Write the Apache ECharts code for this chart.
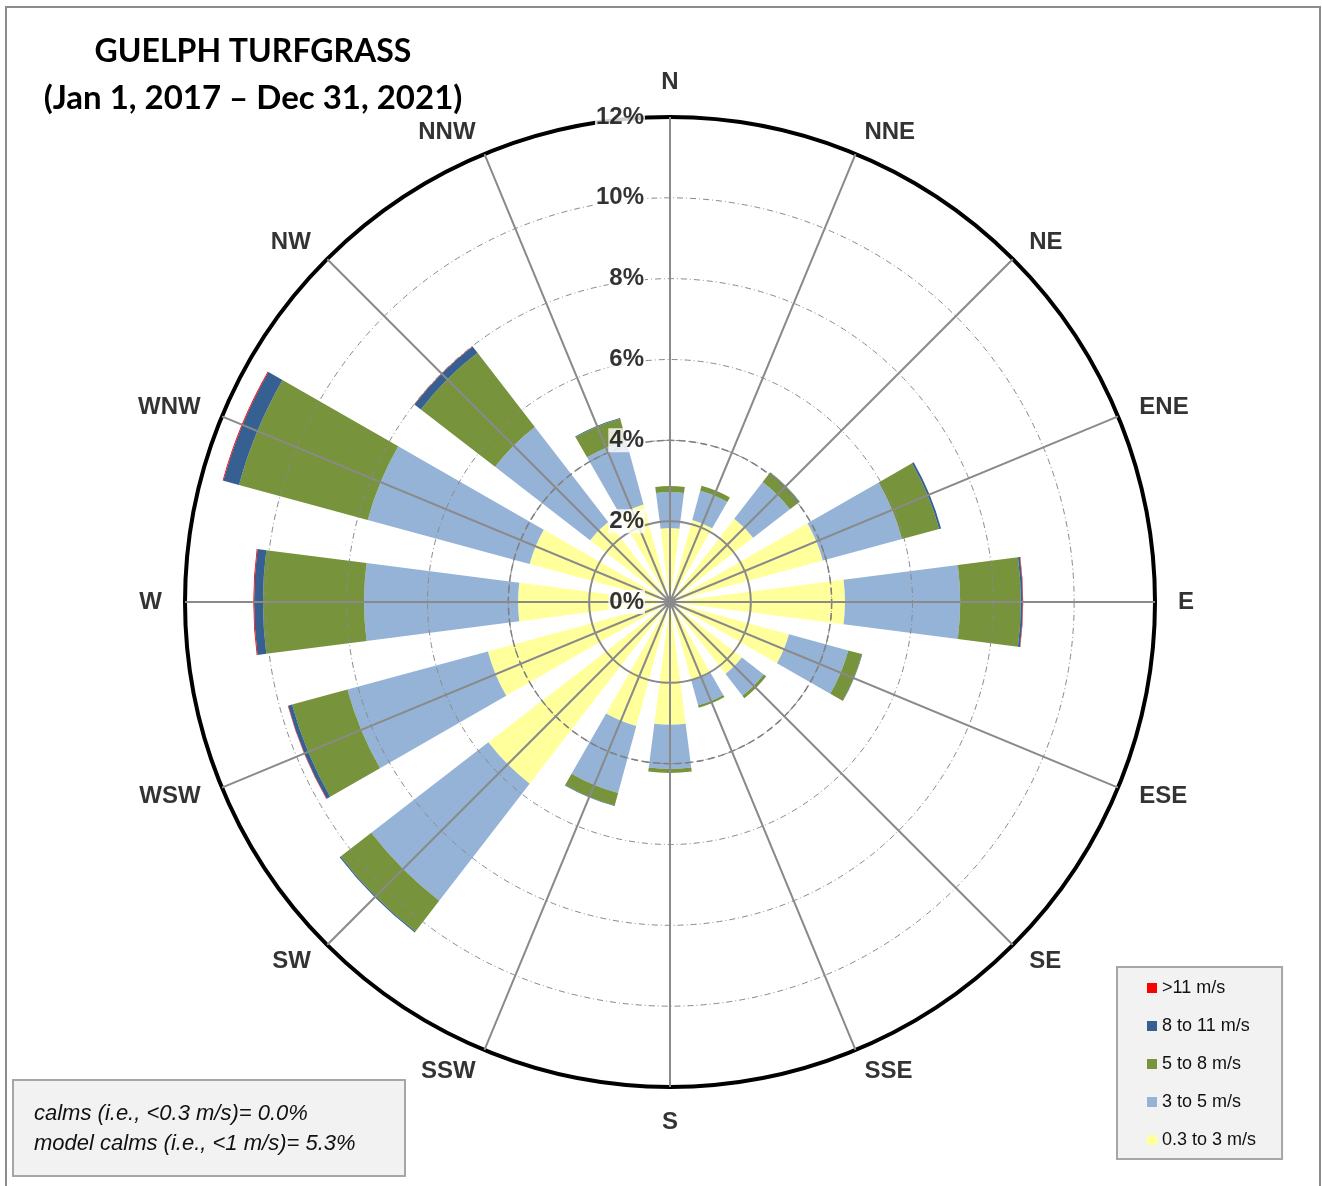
<!DOCTYPE html>
<html>
<head>
<meta charset="utf-8">
<title>Guelph Turfgrass wind rose</title>
<script src="https://cdn.jsdelivr.net/npm/echarts@6/dist/echarts.min.js"></script>
<style>
    html, body { margin: 0; padding: 0; background: #fff; }
    #main { width: 1322px; height: 1186px; }
</style>
</head>
<body>
<div id="main"></div>
<script type="text/javascript">
    // directions, clockwise from north
    var directions = ['N', 'NNE', 'NE', 'ENE', 'E', 'ESE', 'SE', 'SSE', 'S', 'SSW', 'SW', 'WSW', 'W', 'WNW', 'NW', 'NNW'];

    // frequency (%) per speed class, same order as directions
    var speed0to3 = [1.83, 2.10, 2.60, 3.92, 4.33, 3.05, 2.25, 2.00, 3.04, 3.18, 5.68, 4.67, 3.76, 3.60, 2.50, 2.50];
    var speed3to5 = [0.89, 0.75, 1.15, 2.03, 2.85, 1.52, 0.68, 0.65, 1.09, 1.72, 3.66, 3.60, 3.81, 4.15, 2.97, 1.63];
    var speed5to8 = [0.15, 0.13, 0.30, 0.95, 1.50, 0.35, 0.08, 0.06, 0.10, 0.32, 0.96, 1.42, 2.50, 3.30, 2.32, 0.57];
    var speed8to11 = [0, 0, 0.01, 0.05, 0.05, 0.01, 0, 0, 0, 0.01, 0.03, 0.10, 0.22, 0.40, 0.20, 0.02];
    var speedOver11 = [0, 0, 0, 0, 0.01, 0, 0, 0, 0, 0, 0, 0.01, 0.02, 0.02, 0.01, 0];

    var seriesNames = ['0.3 to 3 m/s', '3 to 5 m/s', '5 to 8 m/s', '8 to 11 m/s', '>11 m/s'];
    var radiusTicks = [0, 2, 4, 6, 8, 10, 12];

    var calmsText = ['calms (i.e., <0.3 m/s)= 0.0%', 'model calms (i.e., <1 m/s)= 5.3%'];

    var sans = "'Liberation Sans', Arial, sans-serif";
    var center = [670, 602];
    var R = 485;
    var start = 90 + 360 / directions.length / 2;

    var myChart = echarts.init(document.getElementById('main'), null, {renderer: 'canvas'});

    function hiddenAngle(i, extra) {
        var a = {
            polarIndex: i,
            type: 'category',
            data: directions,
            startAngle: start,
            clockwise: true,
            axisLine: {show: false},
            axisTick: {show: false},
            axisLabel: {show: false},
            splitLine: {show: false}
        };
        return Object.assign(a, extra || {});
    }
    function hiddenRadius(i, extra) {
        var r = {
            polarIndex: i,
            min: 0,
            max: 1,
            axisLine: {show: false},
            axisTick: {show: false},
            axisLabel: {show: false},
            splitLine: {show: false}
        };
        return Object.assign(r, extra || {});
    }

    // spokes: center -> outer ring for every direction
    var spokes = [];
    directions.forEach(function (d) {
        spokes.push([0, d]);
        spokes.push([12, d]);
    });

    // where the direction name sits relative to its anchor point
    var half = directions.length / 2;
    function labelSide(i) {
        if (i === 0) return 'top';
        if (i === half) return 'bottom';
        return i < half ? 'right' : 'left';
    }

    var barColors = ['#ffff9c', '#95b3d7', '#77933c', '#366092', '#ff0000'];
    var barData = [speed0to3, speed3to5, speed5to8, speed8to11, speedOver11];

    var series = barData.map(function (vals, k) {
        return {
            name: seriesNames[k],
            type: 'bar',
            coordinateSystem: 'polar',
            polarIndex: 0,
            stack: 'wind',
            barCategoryGap: '35%',
            itemStyle: {color: barColors[k]},
            z: 2,
            data: vals
        };
    });

    series.push({
        type: 'line',
        coordinateSystem: 'polar',
        polarIndex: 0,
        data: spokes,
        symbol: 'none',
        silent: true,
        lineStyle: {color: '#8a8a8a', width: 2},
        z: 4
    });

    series.push({
        type: 'scatter',
        coordinateSystem: 'polar',
        polarIndex: 0,
        symbolSize: 0,
        silent: true,
        data: radiusTicks.map(function (v) { return [v, 'N']; }),
        label: {
            show: true,
            position: 'left',
            distance: 25,
            formatter: function (p) { return p.value[0] + '%'; },
            fontFamily: sans,
            fontWeight: 'bold',
            fontSize: 24,
            color: '#000',
            backgroundColor: '#fff',
            padding: [0, 1]
        },
        z: 6
    });

    series.push({
        type: 'scatter',
        coordinateSystem: 'polar',
        polarIndex: 3,
        symbolSize: 0,
        silent: true,
        data: directions.map(function (d, i) {
            return {value: [1, d], label: {position: labelSide(i)}};
        }),
        label: {
            show: true,
            distance: 0,
            formatter: function (p) { return p.value[1]; },
            fontFamily: sans,
            fontWeight: 'bold',
            fontSize: 24,
            color: '#000'
        },
        z: 6
    });

    var option = {
        animation: false,
        backgroundColor: '#fff',
        polar: [
            {center: center, radius: R},
            {center: center, radius: R * 2 / 12},
            {center: center, radius: R * 4 / 12},
            {center: center, radius: 508}
        ],
        angleAxis: [
            hiddenAngle(0, {axisLine: {show: true, lineStyle: {color: '#000', width: 4}}, z: 3}),
            hiddenAngle(1, {axisLine: {show: true, lineStyle: {color: '#8a8a8a', width: 2}}, z: 3}),
            hiddenAngle(2, {axisLine: {show: true, lineStyle: {color: '#7f7f7f', width: 1.5, type: [7, 4]}}, z: 3}),
            hiddenAngle(3)
        ],
        radiusAxis: [
            hiddenRadius(0, {
                max: 12,
                interval: 2,
                z: 3,
                splitLine: {show: true, lineStyle: {color: '#8a8a8a', width: 1, type: [6, 3, 1, 3]}}
            }),
            hiddenRadius(1),
            hiddenRadius(2),
            hiddenRadius(3)
        ],
        legend: {
            orient: 'vertical',
            left: 1117,
            top: 967,
            data: ['>11 m/s', '8 to 11 m/s', '5 to 8 m/s', '3 to 5 m/s', '0.3 to 3 m/s'],
            icon: 'rect',
            itemWidth: 10,
            itemHeight: 10,
            itemGap: 18,
            backgroundColor: '#f2f2f2',
            borderColor: '#a6a6a6',
            borderWidth: 2,
            borderRadius: 0,
            padding: [11, 26, 9, 30],
            textStyle: {fontFamily: sans, fontSize: 18, color: '#111', lineHeight: 20}
        },
        graphic: [
            {
                type: 'rect',
                shape: {x: 6, y: 7, width: 1314, height: 1200},
                style: {fill: 'none', stroke: '#8c8c8c', lineWidth: 2},
                silent: true
            },
            {
                type: 'text',
                x: 253, y: 52,
                style: {
                    text: 'GUELPH TURFGRASS',
                    align: 'center', verticalAlign: 'middle',
                    font: 'bold 32px Lato, "Open Sans", sans-serif',
                    fill: '#000'
                }
            },
            {
                type: 'text',
                x: 253, y: 98,
                style: {
                    text: '(Jan 1, 2017 \u2013 Dec 31, 2021)',
                    align: 'center', verticalAlign: 'middle',
                    font: 'bold 33px Lato, "Open Sans", sans-serif',
                    fill: '#000'
                }
            },
            {
                type: 'rect',
                shape: {x: 13, y: 1080, width: 392, height: 96},
                style: {fill: '#f2f2f2', stroke: '#a6a6a6', lineWidth: 2},
                silent: true
            },
            {
                type: 'text',
                x: 34, y: 1114,
                style: {
                    text: calmsText[0],
                    verticalAlign: 'middle',
                    font: 'italic 22px ' + sans,
                    fill: '#111'
                }
            },
            {
                type: 'text',
                x: 34, y: 1144,
                style: {
                    text: calmsText[1],
                    verticalAlign: 'middle',
                    font: 'italic 22px ' + sans,
                    fill: '#111'
                }
            }
        ],
        series: series
    };

    myChart.setOption(option);
</script>
</body>
</html>
